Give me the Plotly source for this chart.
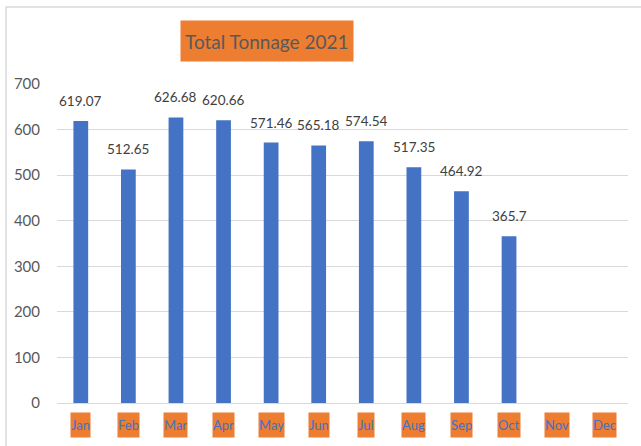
import plotly.graph_objects as go

months = ["Jan", "Feb", "Mar", "Apr", "May", "Jun", "Jul", "Aug", "Sep", "Oct", "Nov", "Dec"]
tonnage = [619.07, 512.65, 626.68, 620.66, 571.46, 565.18, 574.54, 517.35, 464.92, 365.7, None, None]
y_ticks = [0, 100, 200, 300, 400, 500, 600, 700]

font_name = "Lato, Open Sans, sans-serif"
blue = "#4472C4"
orange = "#ED7D31"

fig = go.Figure()

fig.add_trace(go.Bar(
    x=months,
    y=tonnage,
    marker=dict(color=blue, line=dict(width=0)),
    hoverinfo="x+y"
))

# value labels above the bars
for m, v in zip(months, tonnage):
    if v is None:
        continue
    fig.add_annotation(
        x=m, y=v, xref="x", yref="y",
        text=f"{v:g}", showarrow=False,
        yshift=20,
        font=dict(family=font_name, size=13.5, color="#404040")
    )

# month labels with orange boxes
for m in months:
    fig.add_annotation(
        x=m, y=-0.069, xref="x", yref="paper",
        text=m, showarrow=False, yanchor="middle",
        bgcolor=orange, borderpad=0, height=24,
        font=dict(family=font_name, size=13, color=blue)
    )

# title in orange box
fig.add_annotation(
    x=0.368, y=1.135, xref="paper", yref="paper",
    text="Total Tonnage 2021", showarrow=False,
    xanchor="center", yanchor="middle",
    bgcolor=orange, borderpad=4, height=32,
    font=dict(family=font_name, size=19, color="#595959")
)

# chart outline
fig.add_shape(
    type="rect", xref="paper", yref="paper",
    x0=-0.0893, x1=1.1, y0=-0.3, y1=1.241,
    line=dict(color="#D9D9D9", width=1.5),
    fillcolor="rgba(0,0,0,0)", layer="below"
)

fig.update_xaxes(
    showticklabels=False,
    showgrid=False,
    showline=False,
    ticks=""
)

fig.update_yaxes(
    range=[0, 700],
    tickvals=y_ticks,
    showgrid=True,
    gridcolor="#D9D9D9",
    gridwidth=1,
    zeroline=True,
    zerolinecolor="#D9D9D9",
    zerolinewidth=1,
    showline=False,
    ticks="outside",
    ticklen=13,
    tickcolor="rgba(0,0,0,0)",
    tickfont=dict(family=font_name, size=15, color="#595959")
)

fig.update_layout(
    width=641,
    height=446,
    bargap=0.69,
    showlegend=False,
    plot_bgcolor="white",
    paper_bgcolor="white",
    margin=dict(l=57, r=13, t=84, b=43)
)

fig.write_html("out.html", config={"displayModeBar": False},
               post_script="document.body.style.margin='0px';")
